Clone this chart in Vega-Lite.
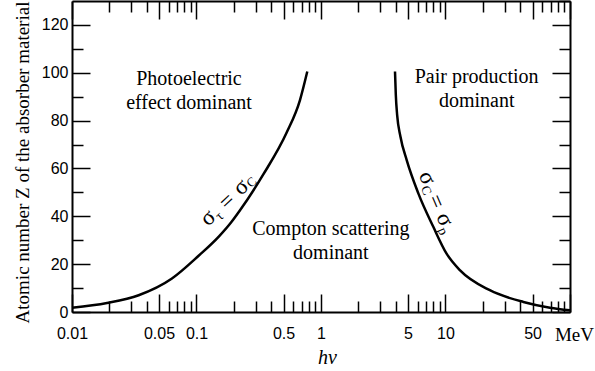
{
  "$schema": "https://vega.github.io/schema/vega-lite/v6.json",
  "width": 498,
  "height": 311,
  "autosize": {"type": "none"},
  "padding": {"left": 72, "top": 1, "right": 25, "bottom": 59},
  "background": "white",
  "config": {
    "view": {"stroke": null},
    "axis": {
      "grid": false,
      "domainColor": "black",
      "domainWidth": 2,
      "tickColor": "black",
      "tickWidth": 1.5,
      "labelColor": "black",
      "labelFont": "Liberation Sans",
      "labelFontSize": 16,
      "titleColor": "black",
      "labelOverlap": false,
      "labelFlush": false
    },
    "text": {"font": "Liberation Serif", "color": "black"}
  },
  "datasets": {
    "curves": [
      {"curve": "left", "hv": 0.01, "Z": 1.8},
      {"curve": "left", "hv": 0.0191, "Z": 3.8},
      {"curve": "left", "hv": 0.0343, "Z": 7.0},
      {"curve": "left", "hv": 0.0635, "Z": 14.0},
      {"curve": "left", "hv": 0.104, "Z": 23.5},
      {"curve": "left", "hv": 0.151, "Z": 31.5},
      {"curve": "left", "hv": 0.19, "Z": 37.5},
      {"curve": "left", "hv": 0.22, "Z": 42},
      {"curve": "left", "hv": 0.344, "Z": 57.5},
      {"curve": "left", "hv": 0.53, "Z": 75},
      {"curve": "left", "hv": 0.678, "Z": 88.6},
      {"curve": "left", "hv": 0.776, "Z": 100.5},
      {"curve": "right", "hv": 3.93, "Z": 100.5},
      {"curve": "right", "hv": 3.99, "Z": 90.7},
      {"curve": "right", "hv": 4.09, "Z": 82.3},
      {"curve": "right", "hv": 4.34, "Z": 73.5},
      {"curve": "right", "hv": 4.88, "Z": 63.5},
      {"curve": "right", "hv": 6.05, "Z": 49.6},
      {"curve": "right", "hv": 7.98, "Z": 35.6},
      {"curve": "right", "hv": 10.2, "Z": 24.4},
      {"curve": "right", "hv": 13.1, "Z": 17.4},
      {"curve": "right", "hv": 22.7, "Z": 9.1},
      {"curve": "right", "hv": 42.2, "Z": 4.2},
      {"curve": "right", "hv": 69, "Z": 1.8},
      {"curve": "right", "hv": 100, "Z": 0.7}
    ],
    "regions": [
      {"hv": 0.087, "Z": 94.9, "t": "Photoelectric"},
      {"hv": 0.087, "Z": 84.7, "t": "effect dominant"},
      {"hv": 17.8, "Z": 95.8, "t": "Pair production"},
      {"hv": 17.8, "Z": 85.8, "t": "dominant"},
      {"hv": 1.2, "Z": 32.1, "t": "Compton scattering"},
      {"hv": 1.2, "Z": 22.3, "t": "dominant"}
    ],
    "leftlab": [{"hv": 0.192, "Z": 47.6}],
    "rightlab": [{"hv": 8.62, "Z": 43.9}]
  },
  "resolve": {"axis": {"x": "independent", "y": "independent"}},
  "layer": [
    {
      "data": {"name": "curves"},
      "mark": {"type": "line", "color": "black", "strokeWidth": 2.5, "interpolate": "monotone"},
      "encoding": {
        "x": {
          "field": "hv", "type": "quantitative",
          "scale": {"type": "log", "domain": [0.01, 100], "nice": false},
          "axis": {
            "orient": "bottom",
            "values": [0.01,0.02,0.03,0.04,0.05,0.06,0.07,0.08,0.09,0.1,0.2,0.3,0.4,0.5,0.6,0.7,0.8,0.9,1,2,3,4,5,6,7,8,9,10,20,30,40,50,60,70,80,90,100],
            "tickSize": {"condition": {"test": "indexof([0.01,0.05,0.1,0.5,1,5,10,50,100], datum.value) >= 0", "value": -18}, "value": -11},
            "labelExpr": "datum.value == 100 ? 'MeV' : (indexof([0.01,0.05,0.1,0.5,1,5,10,50], datum.value) >= 0 ? format(datum.value, '~g') : '')",
            "labelFont": {"condition": {"test": "datum.value == 100", "value": "Liberation Serif"}, "value": "Liberation Sans"},
            "labelFontSize": {"condition": {"test": "datum.value == 100", "value": 19}, "value": 16},
            "labelOffset": {"condition": {"test": "datum.value == 100", "value": 4}, "value": 0},
            "labelBaseline": "top",
            "labelPadding": 31,
            "title": "hv",
            "titleFont": "Liberation Serif",
            "titleFontStyle": "italic",
            "titleFontWeight": "normal",
            "titleFontSize": 20,
            "titleX": 255,
            "titleY": 51,
            "titleBaseline": "alphabetic",
            "titleAlign": "center"
          }
        },
        "y": {
          "field": "Z", "type": "quantitative",
          "scale": {"domain": [0, 130], "nice": false, "zero": false},
          "axis": {
            "orient": "left",
            "values": [0,10,20,30,40,50,60,70,80,90,100,110,120],
            "tickSize": {"condition": {"test": "datum.value % 20 == 0", "value": -18}, "value": -11},
            "labelExpr": "datum.value % 20 == 0 ? datum.label : ''",
            "labelPadding": 22,
            "title": "Atomic number Z of the absorber material",
            "titleFont": "Liberation Serif",
            "titleFontWeight": "normal",
            "titleFontSize": 19,
            "titleAngle": -90,
            "titleX": -44,
            "titleY": 161,
            "titleBaseline": "alphabetic",
            "titleAlign": "center"
          }
        },
        "detail": {"field": "curve"}
      }
    },
    {
      "data": {"name": "regions"},
      "mark": {"type": "text", "fontSize": 20, "align": "center", "baseline": "alphabetic"},
      "encoding": {
        "x": {
          "field": "hv", "type": "quantitative",
          "scale": {"type": "log", "domain": [0.01, 100], "nice": false},
          "axis": {
            "orient": "top",
            "values": [0.01,0.02,0.03,0.04,0.05,0.06,0.07,0.08,0.09,0.1,0.2,0.3,0.4,0.5,0.6,0.7,0.8,0.9,1,2,3,4,5,6,7,8,9,10,20,30,40,50,60,70,80,90,100],
            "tickSize": {"condition": {"test": "indexof([0.01,0.05,0.1,0.5,1,5,10,50,100], datum.value) >= 0", "value": -18}, "value": -11},
            "labels": false,
            "title": null
          }
        },
        "y": {
          "field": "Z", "type": "quantitative",
          "scale": {"domain": [0, 130], "nice": false, "zero": false},
          "axis": {
            "orient": "right",
            "values": [0,10,20,30,40,50,60,70,80,90,100,110,120,130],
            "tickSize": {"condition": {"test": "datum.value % 20 == 0", "value": -18}, "value": -11},
            "labels": false,
            "title": null
          }
        },
        "text": {"field": "t"}
      }
    },
    {
      "data": {"name": "leftlab"},
      "mark": {"type": "text", "text": "σ", "fontSize": 23, "align": "left", "baseline": "alphabetic", "angle": -43, "dx": -37, "dy": 5},
      "encoding": {"x": {"field": "hv", "type": "quantitative", "axis": null}, "y": {"field": "Z", "type": "quantitative", "axis": null}}
    },
    {
      "data": {"name": "leftlab"},
      "mark": {"type": "text", "text": "τ", "fontSize": 14, "align": "left", "baseline": "alphabetic", "angle": -43, "dx": -24, "dy": 9},
      "encoding": {"x": {"field": "hv", "type": "quantitative", "axis": null}, "y": {"field": "Z", "type": "quantitative", "axis": null}}
    },
    {
      "data": {"name": "leftlab"},
      "mark": {"type": "text", "text": "=", "fontSize": 23, "align": "left", "baseline": "alphabetic", "angle": -43, "dx": -12, "dy": 6},
      "encoding": {"x": {"field": "hv", "type": "quantitative", "axis": null}, "y": {"field": "Z", "type": "quantitative", "axis": null}}
    },
    {
      "data": {"name": "leftlab"},
      "mark": {"type": "text", "text": "σ", "fontSize": 23, "align": "left", "baseline": "alphabetic", "angle": -43, "dx": 8, "dy": 5},
      "encoding": {"x": {"field": "hv", "type": "quantitative", "axis": null}, "y": {"field": "Z", "type": "quantitative", "axis": null}}
    },
    {
      "data": {"name": "leftlab"},
      "mark": {"type": "text", "text": "C", "fontSize": 13, "align": "left", "baseline": "alphabetic", "angle": -43, "dx": 21, "dy": 6},
      "encoding": {"x": {"field": "hv", "type": "quantitative", "axis": null}, "y": {"field": "Z", "type": "quantitative", "axis": null}}
    },
    {
      "data": {"name": "rightlab"},
      "mark": {"type": "text", "text": "σ", "fontSize": 23, "align": "left", "baseline": "alphabetic", "angle": 67, "dx": -37, "dy": 5},
      "encoding": {"x": {"field": "hv", "type": "quantitative", "axis": null}, "y": {"field": "Z", "type": "quantitative", "axis": null}}
    },
    {
      "data": {"name": "rightlab"},
      "mark": {"type": "text", "text": "C", "fontSize": 13, "align": "left", "baseline": "alphabetic", "angle": 67, "dx": -24, "dy": 8},
      "encoding": {"x": {"field": "hv", "type": "quantitative", "axis": null}, "y": {"field": "Z", "type": "quantitative", "axis": null}}
    },
    {
      "data": {"name": "rightlab"},
      "mark": {"type": "text", "text": "=", "fontSize": 23, "align": "left", "baseline": "alphabetic", "angle": 67, "dx": -12, "dy": 6},
      "encoding": {"x": {"field": "hv", "type": "quantitative", "axis": null}, "y": {"field": "Z", "type": "quantitative", "axis": null}}
    },
    {
      "data": {"name": "rightlab"},
      "mark": {"type": "text", "text": "σ", "fontSize": 23, "align": "left", "baseline": "alphabetic", "angle": 67, "dx": 8, "dy": 5},
      "encoding": {"x": {"field": "hv", "type": "quantitative", "axis": null}, "y": {"field": "Z", "type": "quantitative", "axis": null}}
    },
    {
      "data": {"name": "rightlab"},
      "mark": {"type": "text", "text": "p", "fontSize": 14, "align": "left", "baseline": "alphabetic", "angle": 67, "dx": 21, "dy": 9},
      "encoding": {"x": {"field": "hv", "type": "quantitative", "axis": null}, "y": {"field": "Z", "type": "quantitative", "axis": null}}
    }
  ]
}
